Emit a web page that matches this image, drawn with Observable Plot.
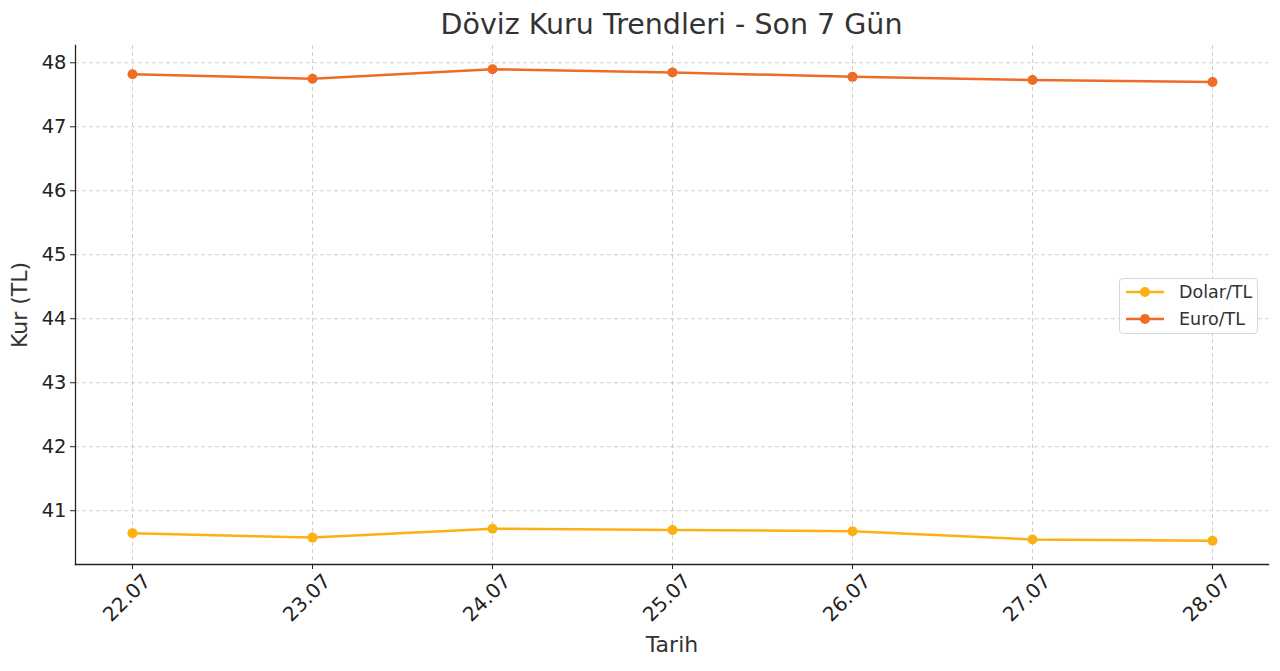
<!DOCTYPE html>
<html>
<head>
<meta charset="utf-8">
<script src="https://cdn.jsdelivr.net/npm/d3@7"></script>
<script src="https://cdn.jsdelivr.net/npm/@observablehq/plot@0.6"></script>
<style>
  body { margin: 0; background: #fff; font-family: "DejaVu Sans", sans-serif; }
  #wrap { position: relative; width: 1280px; height: 671px; }
  #title { height: 40px; margin-left: 75px; width: 1193px; text-align: center; font-size: 28.5px; color: #333; line-height: 50px; }
  #legend { position: absolute; left: 1119px; top: 278px; width: 139px; height: 56px; box-sizing: border-box;
    border: 1px solid #d6d6d6; border-radius: 4px; background: rgba(255,255,255,0.85); font-size: 17.5px; color: #333; }
  .li { position: absolute; left: 4px; display: flex; align-items: center; }
  .li span { margin-left: 13px; }
</style>
</head>
<body>
<div id="wrap">
  <div id="title">Döviz Kuru Trendleri - Son 7 Gün</div>
  <div id="chart"></div>
  <div id="legend"></div>
</div>
<script>
const dates = ["22.07", "23.07", "24.07", "25.07", "26.07", "27.07", "28.07"];
const dolar = [40.65, 40.58, 40.72, 40.70, 40.68, 40.55, 40.53];
const euro  = [47.82, 47.75, 47.90, 47.85, 47.78, 47.73, 47.70];
const seriesNames = ["Dolar/TL", "Euro/TL"];
const seriesColors = ["#FBB114", "#EF6B26"];
const yTicks = [41, 42, 43, 44, 45, 46, 47, 48];

const data = [];
dates.forEach((d, i) => {
  data.push({date: d, value: dolar[i], series: seriesNames[0]});
  data.push({date: d, value: euro[i], series: seriesNames[1]});
});

const chart = Plot.plot({
  width: 1280,
  height: 631,
  marginTop: 5,
  marginBottom: 107,
  marginLeft: 75,
  marginRight: 12,
  style: {fontFamily: "DejaVu Sans, sans-serif", fontSize: "20px", color: "#222", background: "transparent"},
  x: {type: "point", domain: dates, padding: 0.3, axis: null},
  y: {domain: [40.16, 48.27], axis: null},
  color: {domain: seriesNames, range: seriesColors},
  marks: [
    Plot.ruleY(yTicks, {stroke: "#b0b0b0", strokeDasharray: "4,3", strokeWidth: 0.8, strokeOpacity: 0.75}),
    Plot.ruleX(dates, {stroke: "#b0b0b0", strokeDasharray: "4,3", strokeWidth: 0.8, strokeOpacity: 0.75}),
    Plot.axisY({ticks: yTicks, tickSize: 5, tickPadding: 4, fontSize: 19.5, label: null, stroke: "#222"}),
    Plot.axisX({tickSize: 5, tickFormat: () => "", label: null, stroke: "#222"}),
    Plot.text(dates, {x: d => d, frameAnchor: "bottom", dy: 38, dx: -1, rotate: -45, textAnchor: "middle", fontSize: 20, fill: "#222"}),
    Plot.frame({anchor: "left", stroke: "#222", strokeWidth: 1.3}),
    Plot.frame({anchor: "bottom", stroke: "#222", strokeWidth: 1.3}),
    Plot.line(data, {x: "date", y: "value", z: "series", stroke: "series", strokeWidth: 2.5}),
    Plot.dot(data, {x: "date", y: "value", fill: "series", r: 5}),
    Plot.text(["Tarih"], {frameAnchor: "bottom", dy: 87, fontSize: 22, fill: "#333"}),
    Plot.text(["Kur (TL)"], {frameAnchor: "left", dx: -56, rotate: -90, textAnchor: "middle", fontSize: 22, fill: "#333"})
  ]
});
document.getElementById("chart").appendChild(chart);

const legend = document.getElementById("legend");
seriesNames.forEach((name, i) => {
  const div = document.createElement("div");
  div.className = "li";
  div.style.top = (2 + i * 27) + "px";
  div.innerHTML = `<svg width="42" height="22"><line x1="2" x2="40" y1="11" y2="11" stroke="${seriesColors[i]}" stroke-width="2.5"/><circle cx="21" cy="11" r="5" fill="${seriesColors[i]}"/></svg><span>${name}</span>`;
  legend.appendChild(div);
});
</script>
</body>
</html>
